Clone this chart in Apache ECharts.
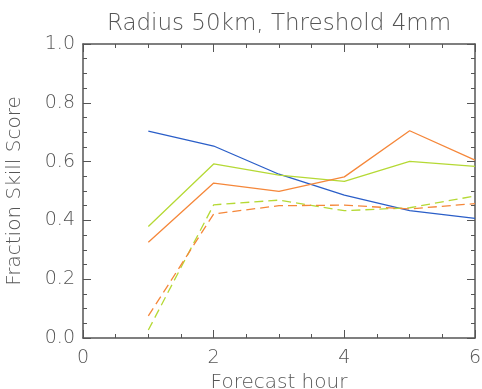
<!DOCTYPE html>
<html>
<head>
<meta charset="utf-8">
<script src="https://cdn.jsdelivr.net/npm/echarts@6/dist/echarts.min.js"></script>
<style>
  html, body { margin: 0; padding: 0; background: #fff; }
  #main { width: 482px; height: 389px; }
</style>
</head>
<body>
<div id="main"></div>
<script>
// forecast hours
const hours = [1, 2, 3, 4, 5, 6];

// fraction skill score per run
const blueSolid = [0.704, 0.653, 0.557, 0.486, 0.433, 0.407];
const greenSolid = [0.379, 0.592, 0.554, 0.533, 0.601, 0.584];
const orangeSolid = [0.326, 0.527, 0.499, 0.548, 0.705, 0.605];
const greenDashed = [0.027, 0.453, 0.469, 0.433, 0.443, 0.483];
const orangeDashed = [0.075, 0.422, 0.45, 0.452, 0.439, 0.457];

const axisColor = "#555";
const textFont = "DejaVu Sans";
const textWeight = 200;

const chart = echarts.init(document.getElementById("main"));

function pairs(vals) {
  return hours.map(function(h, i) {
    return [h, vals[i]];
  });
}

function line(name, vals, color, dashed) {
  return {
    name: name,
    type: "line",
    data: pairs(vals),
    symbol: "none",
    animation: false,
    lineStyle: {
      color: color,
      width: 1.3,
      type: dashed ? [9, 5] : "solid"
    }
  };
}

// frame axes: ticks pointing inwards, no labels on the mirror sides
function frameTicks() {
  return {
    axisLine: { show: true, onZero: false, lineStyle: { color: axisColor, width: 1.5 } },
    axisTick: { show: true, inside: true, length: 8, lineStyle: { color: axisColor } },
    minorTick: { show: true, splitNumber: 4, length: 4, lineStyle: { color: axisColor } },
    splitLine: { show: false }
  };
}

const option = {
  animation: false,
  title: {
    text: "Radius 50km, Threshold 4mm",
    left: 274,
    top: 8,
    textAlign: "center",
    textStyle: {
      fontFamily: textFont,
      fontWeight: textWeight,
      fontSize: 23,
      color: axisColor
    }
  },
  grid: {
    left: 83,
    right: 7,
    top: 44,
    bottom: 51,
    containLabel: false,
    outerBoundsMode: "none"
  },
  xAxis: [
    Object.assign({
      type: "value",
      min: 0,
      max: 6,
      interval: 2,
      name: "Forecast hour",
      nameLocation: "middle",
      nameGap: 32,
      nameTextStyle: { fontFamily: textFont, fontWeight: textWeight, fontSize: 20, color: axisColor },
      axisLabel: { margin: 11, fontFamily: textFont, fontWeight: textWeight, fontSize: 19, color: axisColor }
    }, frameTicks()),
    Object.assign({
      type: "value",
      position: "top",
      min: 0,
      max: 6,
      interval: 2,
      axisLabel: { show: false }
    }, frameTicks())
  ],
  yAxis: [
    Object.assign({
      type: "value",
      min: 0,
      max: 1,
      interval: 0.2,
      name: "Fraction Skill Score",
      nameLocation: "middle",
      nameGap: 58,
      nameTextStyle: { fontFamily: textFont, fontWeight: textWeight, fontSize: 20, color: axisColor },
      axisLabel: {
        margin: 8,
        fontFamily: textFont,
        fontWeight: textWeight,
        fontSize: 19,
        color: axisColor,
        formatter: function(v) { return v.toFixed(1); }
      }
    }, frameTicks()),
    Object.assign({
      type: "value",
      position: "right",
      min: 0,
      max: 1,
      interval: 0.2,
      axisLabel: { show: false }
    }, frameTicks())
  ],
  series: [
    line("blue", blueSolid, "#2a5ec8", false),
    line("green", greenSolid, "#b5d935", false),
    line("orange", orangeSolid, "#f5873a", false),
    line("green dashed", greenDashed, "#b5d935", true),
    line("orange dashed", orangeDashed, "#f5873a", true)
  ]
};

chart.setOption(option);
</script>
</body>
</html>
